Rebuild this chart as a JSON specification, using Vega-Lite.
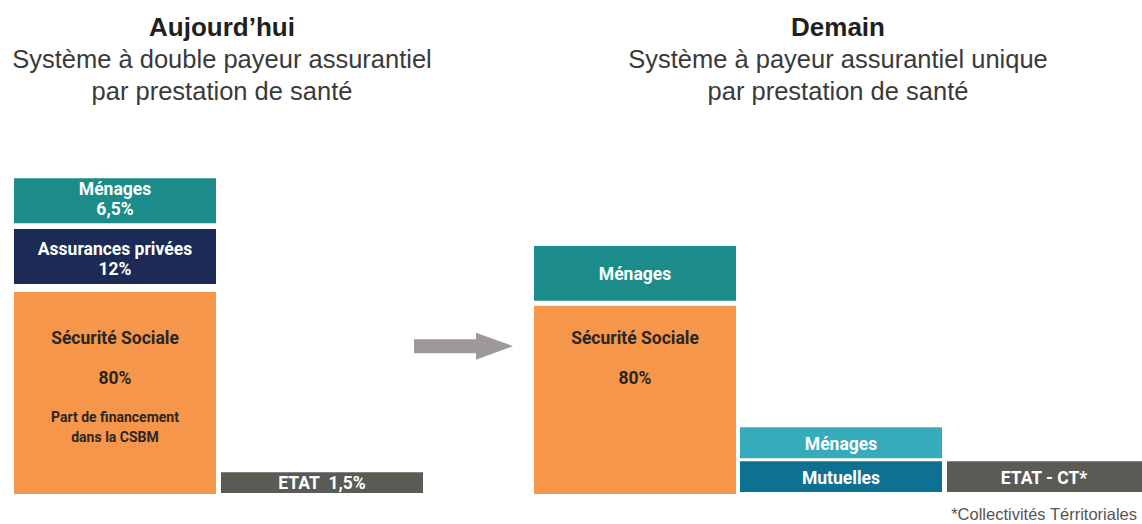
{
  "$schema": "https://vega.github.io/schema/vega-lite/v6.json",
  "width": 1142,
  "height": 524,
  "autosize": {"type": "fit", "contains": "padding"},
  "padding": 0,
  "background": "white",
  "config": {"view": {"stroke": null}},
  "datasets": {
    "blocks": [
      {"scenario": "Aujourd'hui", "payeur": "Ménages", "kind": "menages", "x0": 14, "x1": 216, "y0": 179, "y1": 224},
      {"scenario": "Aujourd'hui", "payeur": "Assurances privées", "kind": "assurances", "x0": 14, "x1": 216, "y0": 230, "y1": 285},
      {"scenario": "Aujourd'hui", "payeur": "Sécurité Sociale", "kind": "secu", "x0": 14, "x1": 216, "y0": 293, "y1": 496},
      {"scenario": "Aujourd'hui", "payeur": "ETAT", "kind": "etat", "x0": 221, "x1": 423, "y0": 474, "y1": 495},
      {"scenario": "Demain", "payeur": "Ménages", "kind": "menages", "x0": 534, "x1": 736, "y0": 247, "y1": 302},
      {"scenario": "Demain", "payeur": "Sécurité Sociale", "kind": "secu", "x0": 534, "x1": 736, "y0": 307, "y1": 496},
      {"scenario": "Demain", "payeur": "Ménages", "kind": "menages2", "x0": 740, "x1": 942, "y0": 429, "y1": 460},
      {"scenario": "Demain", "payeur": "Mutuelles", "kind": "mutuelles", "x0": 740, "x1": 942, "y0": 463, "y1": 494},
      {"scenario": "Demain", "payeur": "ETAT - CT*", "kind": "etat", "x0": 947, "x1": 1142, "y0": 463, "y1": 494}
    ],
    "labels": [
      {"text": "Ménages", "kind": "menages", "x": 115, "y": 196},
      {"text": "6,5%", "kind": "menages", "x": 115, "y": 216},
      {"text": "Assurances privées", "kind": "assurances", "x": 115, "y": 256},
      {"text": "12%", "kind": "assurances", "x": 115, "y": 276},
      {"text": "Sécurité Sociale", "kind": "secu", "x": 115, "y": 345},
      {"text": "80%", "kind": "secu", "x": 115, "y": 385},
      {"text": "ETAT\u00a0\u00a01,5%", "kind": "etat", "x": 322, "y": 491},
      {"text": "Ménages", "kind": "menages", "x": 635, "y": 281},
      {"text": "Sécurité Sociale", "kind": "secu", "x": 635, "y": 345},
      {"text": "80%", "kind": "secu", "x": 635, "y": 385},
      {"text": "Ménages", "kind": "menages2", "x": 841, "y": 452},
      {"text": "Mutuelles", "kind": "mutuelles", "x": 841, "y": 486},
      {"text": "ETAT - CT*", "kind": "etat", "x": 1044, "y": 486}
    ],
    "notes": [
      {"text": "Part de financement", "x": 115, "y": 424},
      {"text": "dans la CSBM", "x": 115, "y": 444}
    ],
    "titles": [
      {"text": "Aujourd’hui", "x": 222, "y": 36},
      {"text": "Demain", "x": 838, "y": 36}
    ],
    "subtitles": [
      {"text": "Système à double payeur assurantiel", "x": 222, "y": 68},
      {"text": "par prestation de santé", "x": 222, "y": 100},
      {"text": "Système à payeur assurantiel unique", "x": 838, "y": 68},
      {"text": "par prestation de santé", "x": 838, "y": 100}
    ],
    "arrow": [{"from": "Aujourd'hui", "to": "Demain", "x": 463.5, "y": 347.5}],
    "footnote": [{"text": "*Collectivités Térritoriales", "x": 1137, "y": 522}]
  },
  "encoding": {
    "x": {"type": "quantitative", "scale": {"domain": [0, 1142], "nice": false, "zero": false}, "axis": null},
    "y": {"type": "quantitative", "scale": {"domain": [0, 524], "nice": false, "zero": false, "reverse": true}, "axis": null}
  },
  "layer": [
    {
      "data": {"name": "blocks"},
      "mark": {"type": "rect"},
      "encoding": {
        "x": {"field": "x0", "type": "quantitative"},
        "x2": {"field": "x1"},
        "y": {"field": "y0", "type": "quantitative"},
        "y2": {"field": "y1"},
        "color": {
          "field": "kind",
          "type": "nominal",
          "scale": {
            "domain": ["menages", "assurances", "secu", "etat", "menages2", "mutuelles"],
            "range": ["#1b8c89", "#1b2b55", "#f5964b", "#5a5b55", "#36abbb", "#0f7191"]
          },
          "legend": null
        },
        "tooltip": [{"field": "scenario"}, {"field": "payeur"}]
      }
    },
    {
      "data": {"name": "arrow"},
      "mark": {
        "type": "point",
        "shape": "M-1,-0.141L0.253,-0.141L0.253,-0.273L1,0L0.253,0.273L0.253,0.141L-1,0.141Z",
        "size": 9801,
        "filled": true,
        "opacity": 1,
        "color": "#9d9998"
      },
      "encoding": {
        "x": {"field": "x", "type": "quantitative"},
        "y": {"field": "y", "type": "quantitative"}
      }
    },
    {
      "data": {"name": "labels"},
      "mark": {"type": "text", "font": "Roboto", "fontWeight": "bold", "fontSize": 17.5, "align": "center", "baseline": "alphabetic"},
      "encoding": {
        "x": {"field": "x", "type": "quantitative"},
        "y": {"field": "y", "type": "quantitative"},
        "text": {"field": "text"},
        "color": {"condition": {"test": "datum.kind === 'secu'", "value": "#2b2622"}, "value": "#ffffff"}
      }
    },
    {
      "data": {"name": "notes"},
      "mark": {"type": "text", "font": "Roboto", "fontWeight": "bold", "fontSize": 14, "align": "center", "baseline": "alphabetic", "color": "#2b2622"},
      "encoding": {
        "x": {"field": "x", "type": "quantitative"},
        "y": {"field": "y", "type": "quantitative"},
        "text": {"field": "text"}
      }
    },
    {
      "data": {"name": "titles"},
      "mark": {"type": "text", "font": "Liberation Sans", "fontWeight": "bold", "fontSize": 26, "align": "center", "baseline": "alphabetic", "color": "#231f20"},
      "encoding": {
        "x": {"field": "x", "type": "quantitative"},
        "y": {"field": "y", "type": "quantitative"},
        "text": {"field": "text"}
      }
    },
    {
      "data": {"name": "subtitles"},
      "mark": {"type": "text", "font": "Liberation Sans", "fontSize": 25.5, "align": "center", "baseline": "alphabetic", "color": "#3a3a3a"},
      "encoding": {
        "x": {"field": "x", "type": "quantitative"},
        "y": {"field": "y", "type": "quantitative"},
        "text": {"field": "text"}
      }
    },
    {
      "data": {"name": "footnote"},
      "mark": {"type": "text", "font": "Liberation Sans", "fontSize": 16.5, "align": "right", "baseline": "alphabetic", "color": "#555555"},
      "encoding": {
        "x": {"field": "x", "type": "quantitative"},
        "y": {"field": "y", "type": "quantitative"},
        "text": {"field": "text"}
      }
    }
  ]
}
